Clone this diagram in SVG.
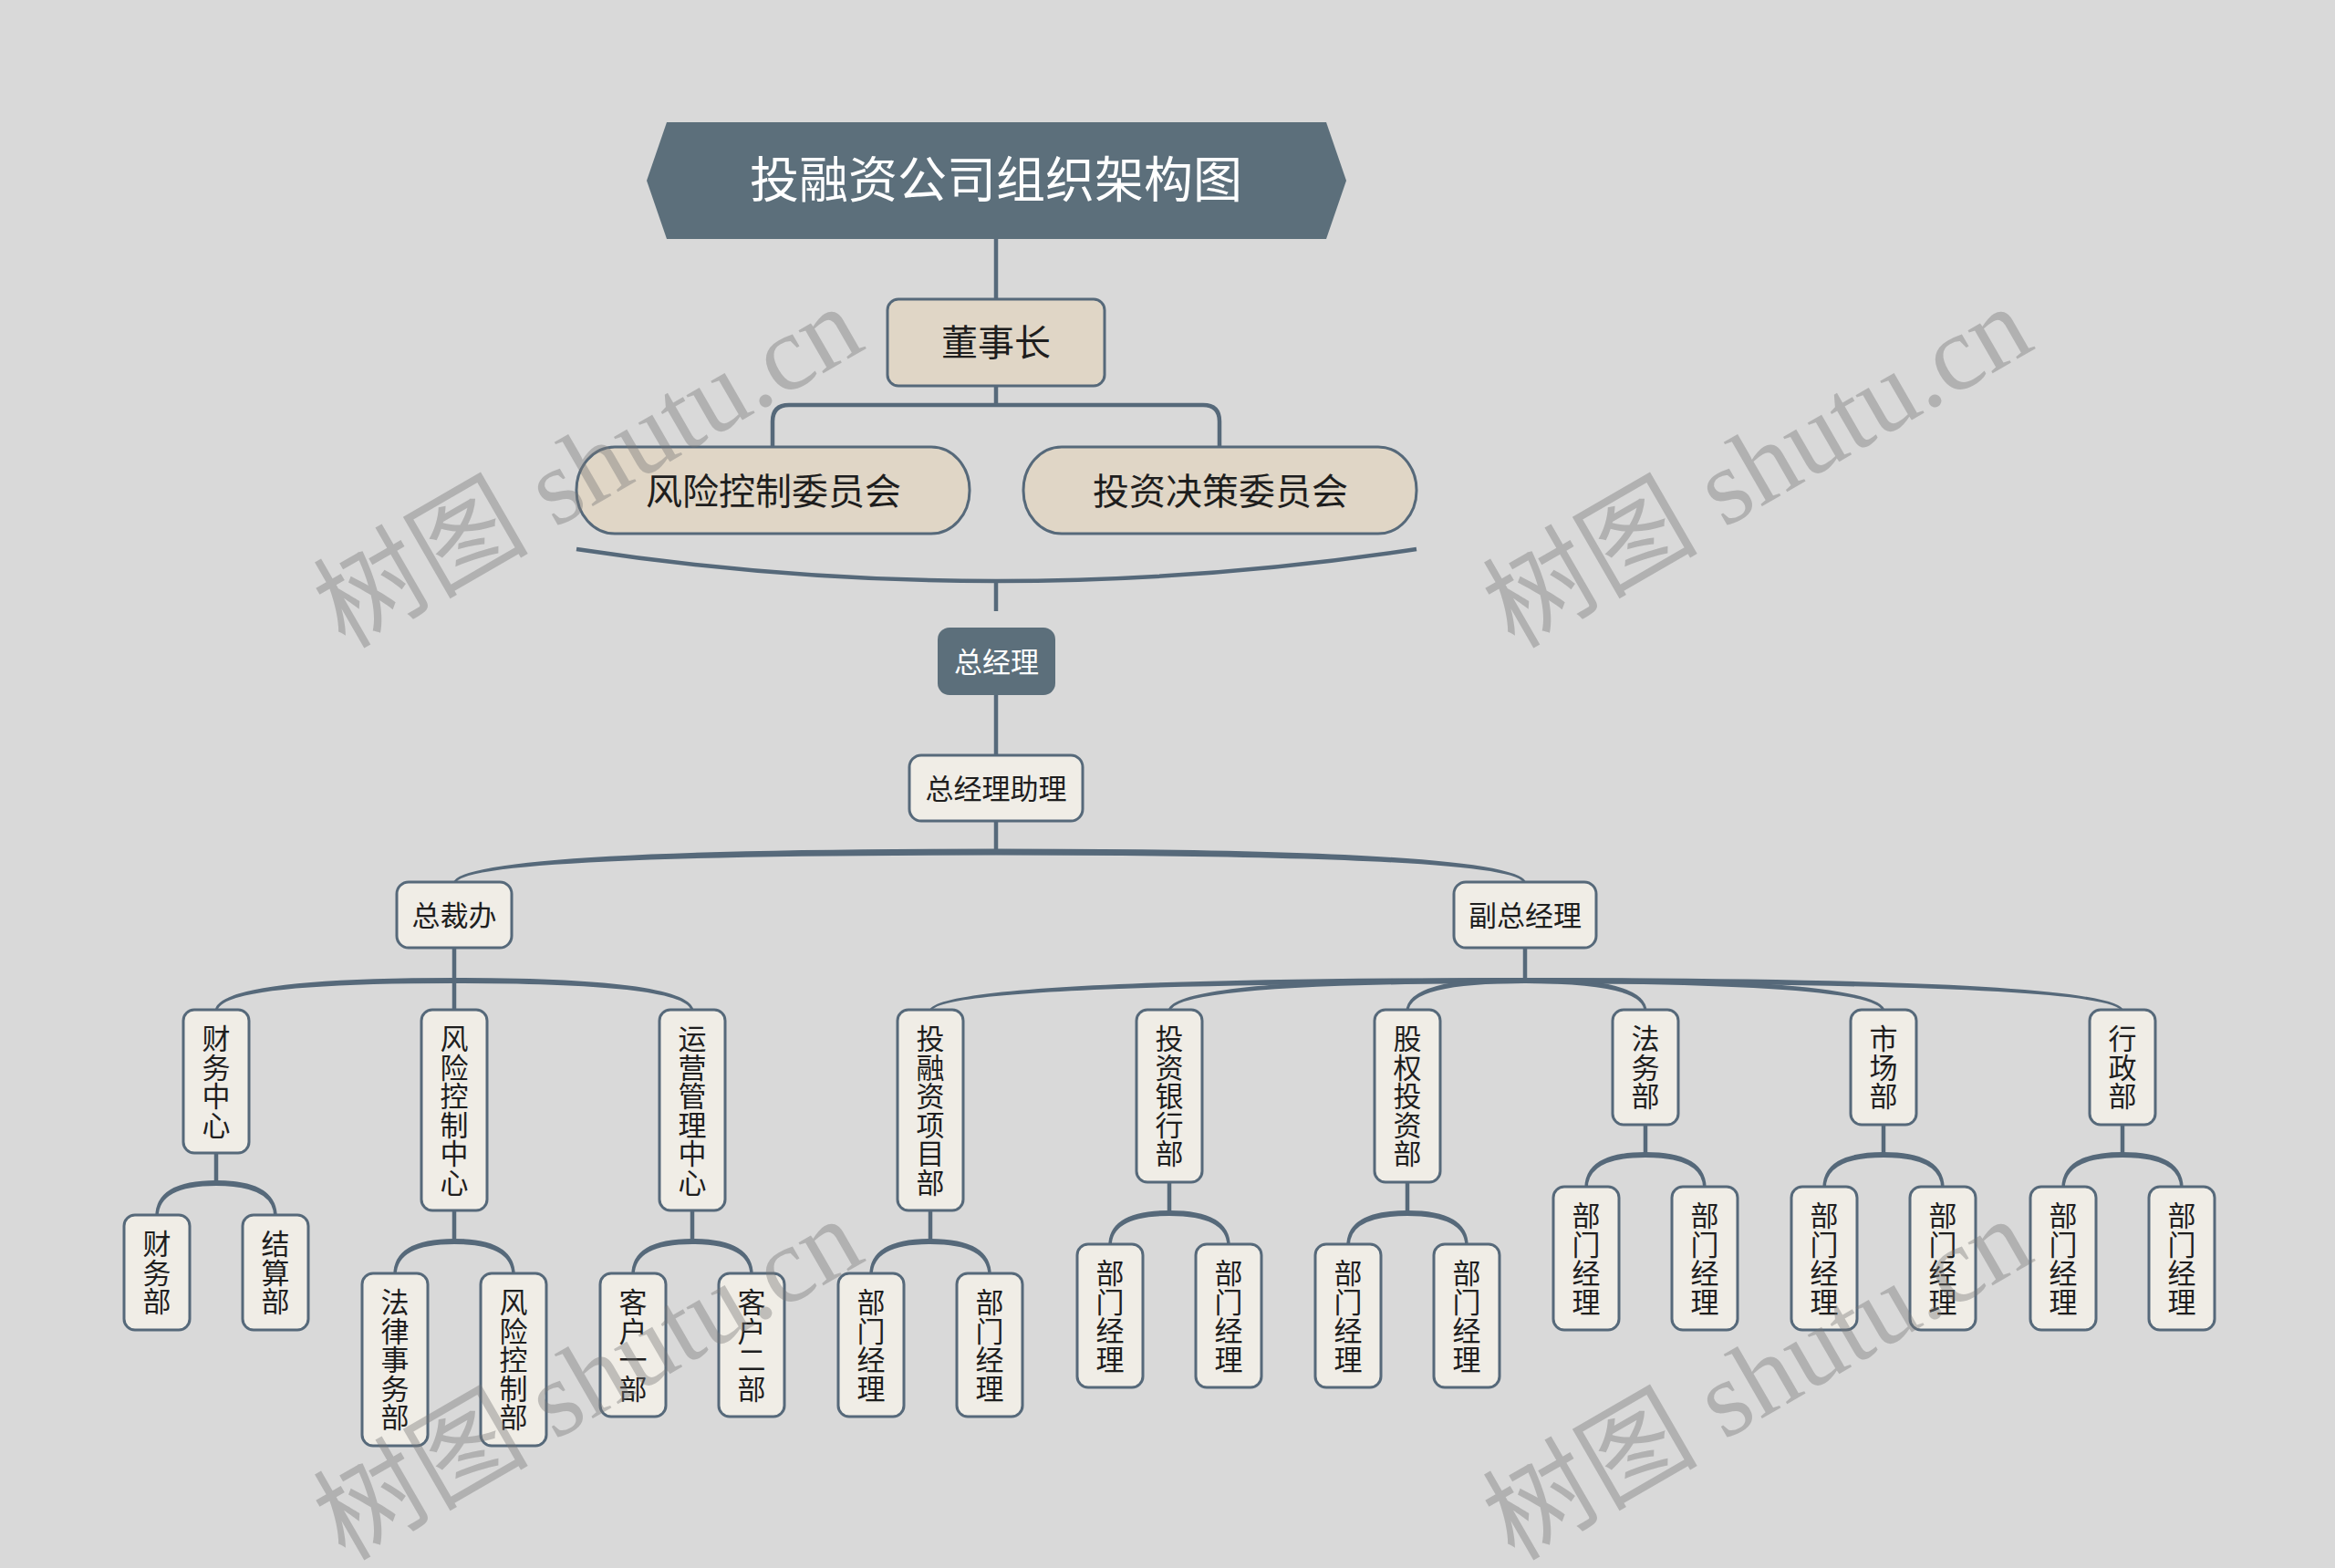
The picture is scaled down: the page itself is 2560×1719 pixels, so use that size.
<svg xmlns="http://www.w3.org/2000/svg" width="2560" height="1719" viewBox="0 0 2560 1719">
<style>
.n{fill:#f0ede6;stroke:#56697a;stroke-width:3}
.b{fill:#e0d6c6;stroke:#56697a;stroke-width:3}
.d{fill:#5c6f7b}
.t{font-family:"Noto Sans CJK SC","Noto Sans",sans-serif;font-size:31px;fill:#1e1e1e;text-anchor:middle}
.w{fill:#ffffff}
.big{font-size:40px}
.ttl{font-size:54px;fill:#ffffff}
.c{stroke:#56697a;fill:none;stroke-width:4.5}
.f{fill:#56697a}
.wm{font-family:"Liberation Serif","Noto Sans CJK SC",serif;font-size:118px;fill:#777777;opacity:0.4}
</style>
<rect x="0" y="0" width="2560" height="1719" fill="#d9d9d9"/>
<g id="connectors">
<line class="c" x1="1092" y1="262" x2="1092" y2="330" stroke-width="5"/>
<line class="c" x1="1092" y1="423" x2="1092" y2="446"/>
<path class="c" d="M 847,491 V 462 Q 847,444 865,444 H 1319 Q 1337,444 1337,462 V 491"/>
<path class="c" d="M 632,602 Q 1092,672 1553,602"/>
<line class="c" x1="1092" y1="636" x2="1092" y2="670"/>
<line class="c" x1="1092" y1="762" x2="1092" y2="829" stroke-width="5"/>
<line class="c" x1="1092" y1="900" x2="1092" y2="936" stroke-width="5"/>
<path class="f" d="M 1092,930.5 Q 496.5,930.5 496.5,969 L 499.5,969 Q 499.5,937.5 1092,937.5 Z"/>
<path class="f" d="M 1092,930.5 Q 1673.5,930.5 1673.5,969 L 1670.5,969 Q 1670.5,937.5 1092,937.5 Z"/>
<line class="c" x1="498" y1="1039" x2="498" y2="1109"/>
<path class="f" d="M 498,1072 Q 235.5,1072 235.5,1109 L 238.5,1109 Q 238.5,1078 498,1078 Z"/>
<path class="f" d="M 498,1072 Q 760.5,1072 760.5,1109 L 757.5,1109 Q 757.5,1078 498,1078 Z"/>
<line class="c" x1="1672" y1="1039" x2="1672" y2="1077"/>
<path class="f" d="M 1672,1072 Q 1018.5,1072 1018.5,1109 L 1021.5,1109 Q 1021.5,1078 1672,1078 Z"/>
<path class="f" d="M 1672,1072 Q 1280.5,1072 1280.5,1109 L 1283.5,1109 Q 1283.5,1078 1672,1078 Z"/>
<path class="f" d="M 1672,1072 Q 1541.5,1072 1541.5,1109 L 1544.5,1109 Q 1544.5,1078 1672,1078 Z"/>
<path class="f" d="M 1672,1072 Q 1805.5,1072 1805.5,1109 L 1802.5,1109 Q 1802.5,1078 1672,1078 Z"/>
<path class="f" d="M 1672,1072 Q 2066.5,1072 2066.5,1109 L 2063.5,1109 Q 2063.5,1078 1672,1078 Z"/>
<path class="f" d="M 1672,1072 Q 2328.5,1072 2328.5,1109 L 2325.5,1109 Q 2325.5,1078 1672,1078 Z"/>
<line class="c" x1="237" y1="1264" x2="237" y2="1299"/>
<path class="f" d="M 237,1294 Q 170.25,1294 170.25,1334 L 173.75,1334 Q 173.75,1300 237,1300 Z"/>
<path class="f" d="M 237,1294 Q 303.75,1294 303.75,1334 L 300.25,1334 Q 300.25,1300 237,1300 Z"/>
<line class="c" x1="498" y1="1327" x2="498" y2="1363"/>
<path class="f" d="M 498,1358 Q 431.25,1358 431.25,1398 L 434.75,1398 Q 434.75,1364 498,1364 Z"/>
<path class="f" d="M 498,1358 Q 564.75,1358 564.75,1398 L 561.25,1398 Q 561.25,1364 498,1364 Z"/>
<line class="c" x1="759" y1="1327" x2="759" y2="1363"/>
<path class="f" d="M 759,1358 Q 692.25,1358 692.25,1398 L 695.75,1398 Q 695.75,1364 759,1364 Z"/>
<path class="f" d="M 759,1358 Q 825.75,1358 825.75,1398 L 822.25,1398 Q 822.25,1364 759,1364 Z"/>
<line class="c" x1="1020" y1="1327" x2="1020" y2="1363"/>
<path class="f" d="M 1020,1358 Q 953.25,1358 953.25,1398 L 956.75,1398 Q 956.75,1364 1020,1364 Z"/>
<path class="f" d="M 1020,1358 Q 1086.75,1358 1086.75,1398 L 1083.25,1398 Q 1083.25,1364 1020,1364 Z"/>
<line class="c" x1="1282" y1="1296" x2="1282" y2="1332"/>
<path class="f" d="M 1282,1327 Q 1215.25,1327 1215.25,1366 L 1218.75,1366 Q 1218.75,1333 1282,1333 Z"/>
<path class="f" d="M 1282,1327 Q 1348.75,1327 1348.75,1366 L 1345.25,1366 Q 1345.25,1333 1282,1333 Z"/>
<line class="c" x1="1543" y1="1296" x2="1543" y2="1332"/>
<path class="f" d="M 1543,1327 Q 1476.25,1327 1476.25,1366 L 1479.75,1366 Q 1479.75,1333 1543,1333 Z"/>
<path class="f" d="M 1543,1327 Q 1609.75,1327 1609.75,1366 L 1606.25,1366 Q 1606.25,1333 1543,1333 Z"/>
<line class="c" x1="1804" y1="1233" x2="1804" y2="1268"/>
<path class="f" d="M 1804,1263 Q 1737.25,1263 1737.25,1303 L 1740.75,1303 Q 1740.75,1269 1804,1269 Z"/>
<path class="f" d="M 1804,1263 Q 1870.75,1263 1870.75,1303 L 1867.25,1303 Q 1867.25,1269 1804,1269 Z"/>
<line class="c" x1="2065" y1="1233" x2="2065" y2="1268"/>
<path class="f" d="M 2065,1263 Q 1998.25,1263 1998.25,1303 L 2001.75,1303 Q 2001.75,1269 2065,1269 Z"/>
<path class="f" d="M 2065,1263 Q 2131.75,1263 2131.75,1303 L 2128.25,1303 Q 2128.25,1269 2065,1269 Z"/>
<line class="c" x1="2327" y1="1233" x2="2327" y2="1268"/>
<path class="f" d="M 2327,1263 Q 2260.25,1263 2260.25,1303 L 2263.75,1303 Q 2263.75,1269 2327,1269 Z"/>
<path class="f" d="M 2327,1263 Q 2393.75,1263 2393.75,1303 L 2390.25,1303 Q 2390.25,1269 2327,1269 Z"/>
</g>
<g id="title">
<polygon class="d" points="709,198 731,134 1454,134 1476,198 1454,262 731,262"/>
<text class="t ttl" x="1092" y="217">投融资公司组织架构图</text>
</g>
<g id="chairman">
<rect class="b" x="973" y="328" width="238" height="95" rx="12"/>
<text class="t big" x="1092" y="390">董事长</text>
</g>
<g id="risk-committee">
<rect class="b" x="632" y="490" width="431" height="95" rx="42" ry="47"/>
<text class="t big" x="848" y="553">风险控制委员会</text>
</g>
<g id="invest-committee">
<rect class="b" x="1122" y="490" width="431" height="95" rx="42" ry="47"/>
<text class="t big" x="1338" y="553">投资决策委员会</text>
</g>
<g id="gm">
<rect class="d" x="1028" y="688" width="129" height="74" rx="13"/>
<text class="t w" x="1092.5" y="737">总经理</text>
</g>
<g id="gm-assistant">
<rect class="n" x="997" y="828" width="190" height="72" rx="13"/>
<text class="t" x="1092" y="876">总经理助理</text>
</g>
<g id="president-office">
<rect class="n" x="435" y="967" width="126" height="72" rx="13"/>
<text class="t" x="498" y="1015">总裁办</text>
</g>
<g id="vice-gm">
<rect class="n" x="1594" y="967" width="156" height="72" rx="13"/>
<text class="t" x="1672" y="1015">副总经理</text>
</g>
<g id="finance-center">
<rect class="n" x="201" y="1107" width="72" height="157" rx="12"/>
<text class="t"><tspan x="237" y="1150">财</tspan><tspan x="237" y="1181.5">务</tspan><tspan x="237" y="1213">中</tspan><tspan x="237" y="1244.5">心</tspan></text>
</g>
<g id="risk-center">
<rect class="n" x="462" y="1107" width="72" height="220" rx="12"/>
<text class="t"><tspan x="498" y="1150">风</tspan><tspan x="498" y="1181.5">险</tspan><tspan x="498" y="1213">控</tspan><tspan x="498" y="1244.5">制</tspan><tspan x="498" y="1276">中</tspan><tspan x="498" y="1307.5">心</tspan></text>
</g>
<g id="ops-center">
<rect class="n" x="723" y="1107" width="72" height="220" rx="12"/>
<text class="t"><tspan x="759" y="1150">运</tspan><tspan x="759" y="1181.5">营</tspan><tspan x="759" y="1213">管</tspan><tspan x="759" y="1244.5">理</tspan><tspan x="759" y="1276">中</tspan><tspan x="759" y="1307.5">心</tspan></text>
</g>
<g id="ifp-dept">
<rect class="n" x="984" y="1107" width="72" height="220" rx="12"/>
<text class="t"><tspan x="1020" y="1150">投</tspan><tspan x="1020" y="1181.5">融</tspan><tspan x="1020" y="1213">资</tspan><tspan x="1020" y="1244.5">项</tspan><tspan x="1020" y="1276">目</tspan><tspan x="1020" y="1307.5">部</tspan></text>
</g>
<g id="ib-dept">
<rect class="n" x="1246" y="1107" width="72" height="189" rx="12"/>
<text class="t"><tspan x="1282" y="1150">投</tspan><tspan x="1282" y="1181.5">资</tspan><tspan x="1282" y="1213">银</tspan><tspan x="1282" y="1244.5">行</tspan><tspan x="1282" y="1276">部</tspan></text>
</g>
<g id="pe-dept">
<rect class="n" x="1507" y="1107" width="72" height="189" rx="12"/>
<text class="t"><tspan x="1543" y="1150">股</tspan><tspan x="1543" y="1181.5">权</tspan><tspan x="1543" y="1213">投</tspan><tspan x="1543" y="1244.5">资</tspan><tspan x="1543" y="1276">部</tspan></text>
</g>
<g id="legal-dept">
<rect class="n" x="1768" y="1107" width="72" height="126" rx="12"/>
<text class="t"><tspan x="1804" y="1150">法</tspan><tspan x="1804" y="1181.5">务</tspan><tspan x="1804" y="1213">部</tspan></text>
</g>
<g id="market-dept">
<rect class="n" x="2029" y="1107" width="72" height="126" rx="12"/>
<text class="t"><tspan x="2065" y="1150">市</tspan><tspan x="2065" y="1181.5">场</tspan><tspan x="2065" y="1213">部</tspan></text>
</g>
<g id="admin-dept">
<rect class="n" x="2291" y="1107" width="72" height="126" rx="12"/>
<text class="t"><tspan x="2327" y="1150">行</tspan><tspan x="2327" y="1181.5">政</tspan><tspan x="2327" y="1213">部</tspan></text>
</g>
<g id="finance-dept">
<rect class="n" x="136" y="1332" width="72" height="126" rx="12"/>
<text class="t"><tspan x="172" y="1375">财</tspan><tspan x="172" y="1406.5">务</tspan><tspan x="172" y="1438">部</tspan></text>
</g>
<g id="settlement-dept">
<rect class="n" x="266" y="1332" width="72" height="126" rx="12"/>
<text class="t"><tspan x="302" y="1375">结</tspan><tspan x="302" y="1406.5">算</tspan><tspan x="302" y="1438">部</tspan></text>
</g>
<g id="law-affairs-dept">
<rect class="n" x="397" y="1396" width="72" height="189" rx="12"/>
<text class="t"><tspan x="433" y="1439">法</tspan><tspan x="433" y="1470.5">律</tspan><tspan x="433" y="1502">事</tspan><tspan x="433" y="1533.5">务</tspan><tspan x="433" y="1565">部</tspan></text>
</g>
<g id="risk-dept">
<rect class="n" x="527" y="1396" width="72" height="189" rx="12"/>
<text class="t"><tspan x="563" y="1439">风</tspan><tspan x="563" y="1470.5">险</tspan><tspan x="563" y="1502">控</tspan><tspan x="563" y="1533.5">制</tspan><tspan x="563" y="1565">部</tspan></text>
</g>
<g id="client-1">
<rect class="n" x="658" y="1396" width="72" height="157" rx="12"/>
<text class="t"><tspan x="694" y="1439">客</tspan><tspan x="694" y="1470.5">户</tspan><tspan x="694" y="1502">一</tspan><tspan x="694" y="1533.5">部</tspan></text>
</g>
<g id="client-2">
<rect class="n" x="788" y="1396" width="72" height="157" rx="12"/>
<text class="t"><tspan x="824" y="1439">客</tspan><tspan x="824" y="1470.5">户</tspan><tspan x="824" y="1502">二</tspan><tspan x="824" y="1533.5">部</tspan></text>
</g>
<g id="mgr-ifp-1">
<rect class="n" x="919" y="1396" width="72" height="157" rx="12"/>
<text class="t"><tspan x="955" y="1439">部</tspan><tspan x="955" y="1470.5">门</tspan><tspan x="955" y="1502">经</tspan><tspan x="955" y="1533.5">理</tspan></text>
</g>
<g id="mgr-ifp-2">
<rect class="n" x="1049" y="1396" width="72" height="157" rx="12"/>
<text class="t"><tspan x="1085" y="1439">部</tspan><tspan x="1085" y="1470.5">门</tspan><tspan x="1085" y="1502">经</tspan><tspan x="1085" y="1533.5">理</tspan></text>
</g>
<g id="mgr-ib-1">
<rect class="n" x="1181" y="1364" width="72" height="157" rx="12"/>
<text class="t"><tspan x="1217" y="1407">部</tspan><tspan x="1217" y="1438.5">门</tspan><tspan x="1217" y="1470">经</tspan><tspan x="1217" y="1501.5">理</tspan></text>
</g>
<g id="mgr-ib-2">
<rect class="n" x="1311" y="1364" width="72" height="157" rx="12"/>
<text class="t"><tspan x="1347" y="1407">部</tspan><tspan x="1347" y="1438.5">门</tspan><tspan x="1347" y="1470">经</tspan><tspan x="1347" y="1501.5">理</tspan></text>
</g>
<g id="mgr-pe-1">
<rect class="n" x="1442" y="1364" width="72" height="157" rx="12"/>
<text class="t"><tspan x="1478" y="1407">部</tspan><tspan x="1478" y="1438.5">门</tspan><tspan x="1478" y="1470">经</tspan><tspan x="1478" y="1501.5">理</tspan></text>
</g>
<g id="mgr-pe-2">
<rect class="n" x="1572" y="1364" width="72" height="157" rx="12"/>
<text class="t"><tspan x="1608" y="1407">部</tspan><tspan x="1608" y="1438.5">门</tspan><tspan x="1608" y="1470">经</tspan><tspan x="1608" y="1501.5">理</tspan></text>
</g>
<g id="mgr-legal-1">
<rect class="n" x="1703" y="1301" width="72" height="157" rx="12"/>
<text class="t"><tspan x="1739" y="1344">部</tspan><tspan x="1739" y="1375.5">门</tspan><tspan x="1739" y="1407">经</tspan><tspan x="1739" y="1438.5">理</tspan></text>
</g>
<g id="mgr-legal-2">
<rect class="n" x="1833" y="1301" width="72" height="157" rx="12"/>
<text class="t"><tspan x="1869" y="1344">部</tspan><tspan x="1869" y="1375.5">门</tspan><tspan x="1869" y="1407">经</tspan><tspan x="1869" y="1438.5">理</tspan></text>
</g>
<g id="mgr-market-1">
<rect class="n" x="1964" y="1301" width="72" height="157" rx="12"/>
<text class="t"><tspan x="2000" y="1344">部</tspan><tspan x="2000" y="1375.5">门</tspan><tspan x="2000" y="1407">经</tspan><tspan x="2000" y="1438.5">理</tspan></text>
</g>
<g id="mgr-market-2">
<rect class="n" x="2094" y="1301" width="72" height="157" rx="12"/>
<text class="t"><tspan x="2130" y="1344">部</tspan><tspan x="2130" y="1375.5">门</tspan><tspan x="2130" y="1407">经</tspan><tspan x="2130" y="1438.5">理</tspan></text>
</g>
<g id="mgr-admin-1">
<rect class="n" x="2226" y="1301" width="72" height="157" rx="12"/>
<text class="t"><tspan x="2262" y="1344">部</tspan><tspan x="2262" y="1375.5">门</tspan><tspan x="2262" y="1407">经</tspan><tspan x="2262" y="1438.5">理</tspan></text>
</g>
<g id="mgr-admin-2">
<rect class="n" x="2356" y="1301" width="72" height="157" rx="12"/>
<text class="t"><tspan x="2392" y="1344">部</tspan><tspan x="2392" y="1375.5">门</tspan><tspan x="2392" y="1407">经</tspan><tspan x="2392" y="1438.5">理</tspan></text>
</g>
<g id="watermark">
<text class="wm" transform="translate(378,712) rotate(-30)" textLength="662" lengthAdjust="spacing">树图 shutu.cn</text>
<text class="wm" transform="translate(1660,712) rotate(-30)" textLength="662" lengthAdjust="spacing">树图 shutu.cn</text>
<text class="wm" transform="translate(378,1712) rotate(-30)" textLength="662" lengthAdjust="spacing">树图 shutu.cn</text>
<text class="wm" transform="translate(1660,1712) rotate(-30)" textLength="662" lengthAdjust="spacing">树图 shutu.cn</text>
</g>
</svg>
